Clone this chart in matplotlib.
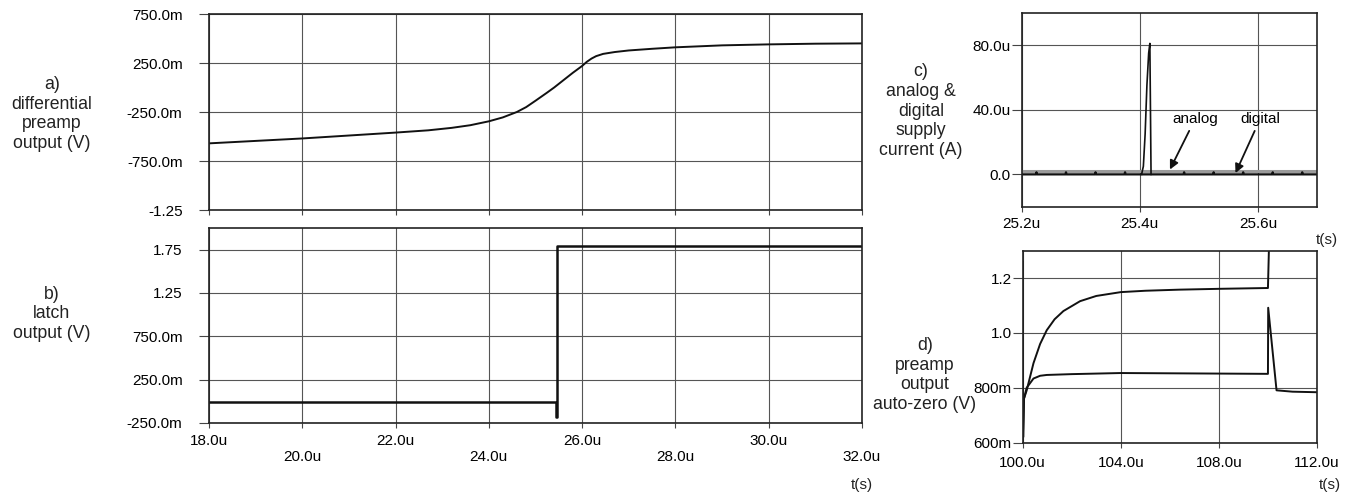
import matplotlib.pyplot as plt
import numpy as np

plt.rcParams['font.family'] = ['Liberation Sans', 'DejaVu Sans']

# a) differential preamp output (V) vs time (us)
a_t = [18.0, 19.0, 20.0, 21.0, 22.0, 22.7, 23.2, 23.6, 24.0, 24.3, 24.6, 24.8, 25.0,
       25.24, 25.4, 25.6, 25.8, 26.0, 26.1, 26.2, 26.3, 26.45, 26.7, 27.0, 27.5,
       28.0, 29.0, 30.0, 31.0, 32.0]
a_v = [-0.57, -0.545, -0.52, -0.49, -0.46, -0.437, -0.412, -0.385, -0.345, -0.305,
       -0.25, -0.2, -0.135, -0.055, 0.0, 0.075, 0.15, 0.22, 0.262, 0.295, 0.32, 0.343,
       0.362, 0.378, 0.395, 0.41, 0.43, 0.44, 0.447, 0.45]

# b) latch output (V)
b_t = [18.0, 25.45, 25.45, 25.455, 25.455, 32.0]
b_v = [-0.01, -0.01, -0.18, -0.18, 1.79, 1.79]

# c) supply currents (uA) vs time (us)
c_analog_t = [25.2, 25.7]
c_analog_i = [2.0, 2.0]
c_spike_t = [25.403, 25.406, 25.409, 25.412, 25.415, 25.417, 25.419]
c_spike_i = [0.0, 5.0, 25.0, 55.0, 75.0, 81.0, 0.0]
c_clock_ticks = [25.225, 25.275, 25.325, 25.375, 25.475, 25.525,
                 25.575, 25.625, 25.675]
c_tick_height = 1.3

# d) preamp output auto-zero (V) vs time (us)
d1_t = [100.0, 100.02, 100.05, 100.16, 100.44, 100.71, 100.98, 101.3, 101.66, 102.34,
        103.0, 104.0, 105.0, 106.4, 108.0, 110.0, 110.08, 112.0]
d1_v = [1.26, 0.62, 0.76, 0.79, 0.89, 0.96, 1.01, 1.05, 1.08, 1.116,
        1.135, 1.149, 1.154, 1.158, 1.161, 1.164, 1.45, 1.45]
d2_t = [100.0, 100.05, 100.16, 100.44, 100.71, 100.98, 102.0, 104.0, 106.0, 108.0,
        110.0, 110.01, 110.35, 111.0, 112.0]
d2_v = [0.6, 0.76, 0.80, 0.834, 0.844, 0.847, 0.85, 0.854, 0.853, 0.852,
        0.851, 1.092, 0.791, 0.786, 0.784]

W, H = 1356, 495
fig = plt.figure(figsize=(W / 100, H / 100), dpi=100)


def box(l, t, r, b):
    return [l / W, 1 - b / H, (r - l) / W, (b - t) / H]


def style(ax, ypad, xpad):
    ax.grid(True, color='#555555', lw=0.8)
    ax.set_axisbelow(True)
    for s in ax.spines.values():
        s.set_color('#222222')
        s.set_linewidth(1.2)
    ax.tick_params(axis='y', direction='out', length=7, width=0.8, pad=ypad,
                   labelsize=11, color='#444444')
    ax.tick_params(axis='x', direction='out', length=3.6, width=0.8, pad=xpad,
                   labelsize=11, color='#444444')


line_kw = dict(color='#111111', lw=1.4)

# panel a
ax_a = fig.add_axes(box(209, 14, 862, 210))
ax_a.plot(a_t, a_v, **line_kw)
ax_a.set_xlim(18, 32)
ax_a.set_ylim(-1.25, 0.75)
ax_a.set_yticks([0.75, 0.25, -0.25, -0.75, -1.25])
ax_a.set_yticklabels(['750.0m', '250.0m', '-250.0m', '-750.0m', '-1.25'])
ax_a.set_xticks(np.arange(18, 33, 2))
ax_a.set_xticklabels([])
style(ax_a, 12, 4)

# panel b
ax_b = fig.add_axes(box(209, 228, 862, 423))
ax_b.plot(b_t, b_v, color='#111111', lw=1.8)
ax_b.set_xlim(18, 32)
ax_b.set_ylim(-0.25, 2.0)
ax_b.set_yticks([1.75, 1.25, 0.75, 0.25, -0.25])
ax_b.set_yticklabels(['1.75', '1.25', '750.0m', '250.0m', '-250.0m'])
b_ticks = np.arange(18, 33, 2)
ax_b.set_xticks(b_ticks)
ax_b.set_xticklabels([('%.1fu' % v) if i % 2 == 0 else ('\n%.1fu' % v)
                      for i, v in enumerate(b_ticks)], linespacing=1.25)
style(ax_b, 12, 4)

# panel c
ax_c = fig.add_axes(box(1021.7, 12.7, 1317, 206.7))
ax_c.plot(c_analog_t, c_analog_i, color='#9a9a9a', lw=2.2)
dig_t = [25.2]
dig_i = [0.0]
for tk in c_clock_ticks:
    dig_t += [tk - 0.001, tk, tk + 0.001]
    dig_i += [0.0, c_tick_height, 0.0]
dig_t.append(25.7)
dig_i.append(0.0)
order = np.argsort(dig_t)
ax_c.plot(np.array(dig_t)[order], np.array(dig_i)[order], color='#111111', lw=1.6)
ax_c.plot(c_spike_t, c_spike_i, color='#111111', lw=1.2)
ax_c.set_xlim(25.2, 25.7)
ax_c.set_ylim(-20, 100)
ax_c.set_yticks([0, 40, 80])
ax_c.set_yticklabels(['0.0', '40.0u', '80.0u'])
ax_c.set_xticks([25.2, 25.4, 25.6])
ax_c.set_xticklabels(['25.2u', '25.4u', '25.6u'])
style(ax_c, 1, 4)
arrow_kw = dict(arrowstyle='-|>', color='#111111', lw=1.3, mutation_scale=13,
                shrinkA=2, shrinkB=0)
ax_c.annotate('analog', xy=(25.451, 3), xytext=(25.494, 34.5), ha='center', va='center',
              fontsize=11, arrowprops=arrow_kw)
ax_c.annotate('digital', xy=(25.562, 0.8), xytext=(25.604, 34.5), ha='center', va='center',
              fontsize=11, arrowprops=arrow_kw)

# panel d
ax_d = fig.add_axes(box(1022.7, 250.7, 1317, 442.7))
ax_d.plot(d1_t, d1_v, **line_kw)
ax_d.plot(d2_t, d2_v, **line_kw)
ax_d.set_xlim(100, 112)
ax_d.set_ylim(0.6, 1.3)
ax_d.set_yticks([0.6, 0.8, 1.0, 1.2])
ax_d.set_yticklabels(['600m', '800m', '1.0', '1.2'])
ax_d.set_xticks([100, 104, 108, 112])
ax_d.set_xticklabels(['100.0u', '104.0u', '108.0u', '112.0u'])
style(ax_d, 1, 6)

# side labels
lab_kw = dict(ha='center', va='center', multialignment='center', fontsize=12.7,
              linespacing=1.2, color='#222222')
fig.text(52 / W, 1 - 114 / H, 'a)\ndifferential\npreamp\noutput (V)', **lab_kw)
fig.text(52 / W, 1 - 314 / H, 'b)\nlatch\noutput (V)', **lab_kw)
fig.text(921 / W, 1 - 111 / H, 'c)\nanalog &\ndigital\nsupply\ncurrent (A)', **lab_kw)
fig.text(925 / W, 1 - 375 / H, 'd)\npreamp\noutput\nauto-zero (V)', **lab_kw)

ts_kw = dict(ha='center', va='center', fontsize=11, color='#222222')
fig.text(862 / W, 1 - 485 / H, 't(s)', **ts_kw)
fig.text(1327 / W, 1 - 240 / H, 't(s)', **ts_kw)
fig.text(1330 / W, 1 - 485 / H, 't(s)', **ts_kw)

fig.savefig('out.png', dpi=100, facecolor='white')
